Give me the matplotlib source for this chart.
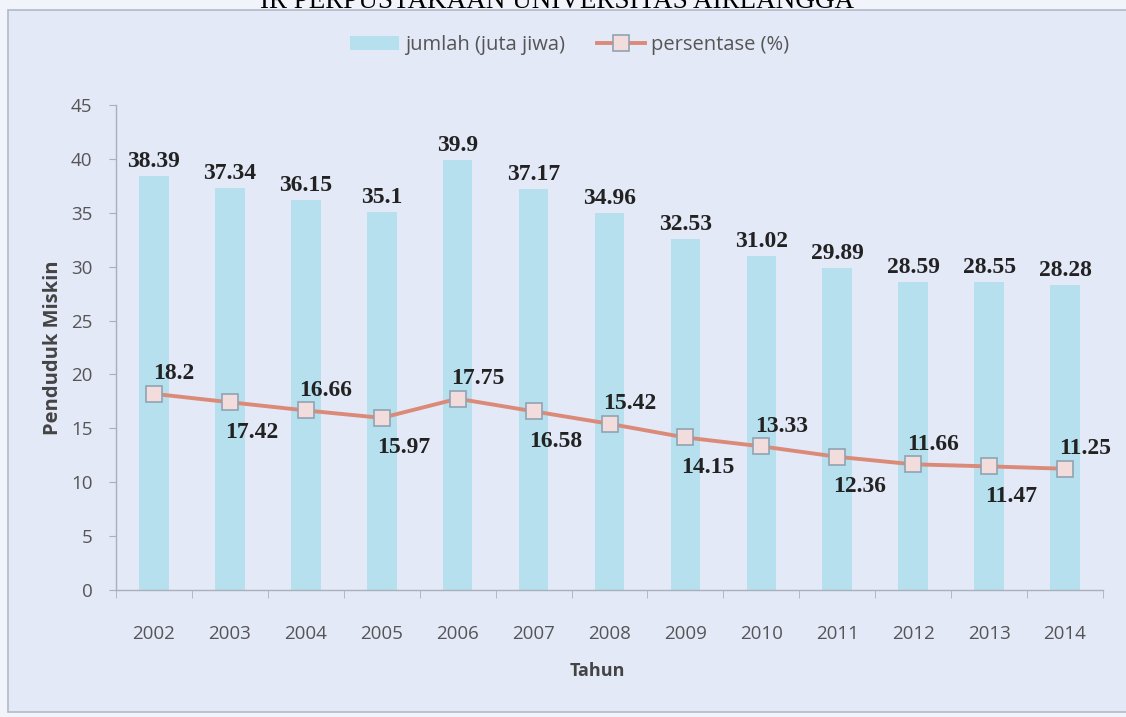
import matplotlib.pyplot as plt
from matplotlib.patches import Rectangle
import numpy as np

# data: penduduk miskin Indonesia 2002-2014
tahun = ['2002', '2003', '2004', '2005', '2006', '2007', '2008',
         '2009', '2010', '2011', '2012', '2013', '2014']
jumlah = [38.39, 37.34, 36.15, 35.1, 39.9, 37.17, 34.96,
          32.53, 31.02, 29.89, 28.59, 28.55, 28.28]
persen = [18.2, 17.42, 16.66, 15.97, 17.75, 16.58, 15.42,
          14.15, 13.33, 12.36, 11.66, 11.47, 11.25]

bg = '#e4e9f8'
bar_col = '#b6e0ee'
line_col = '#dc8a78'
txt_grey = '#555555'

fig = plt.figure(figsize=(11.26, 7.17), dpi=100)
fig.patch.set_facecolor('#f2f4fb')

# outer chart box, kept behind the axes
fig.patches.append(Rectangle((8/1126, 5/717), 1.0, 1 - 15/717,
                             transform=fig.transFigure, facecolor=bg,
                             edgecolor='#b4b9c8', linewidth=1.2, zorder=-10))

fig.text(557/1126, 1 - 8/717, 'IR PERPUSTAKAAN UNIVERSITAS AIRLANGGA',
         family='Liberation Serif', fontsize=19.5, color='black',
         ha='center', va='baseline')

ax = fig.add_axes([116/1126, 1 - 590/717, (1103 - 116)/1126, (590 - 105)/717])
ax.set_facecolor('none')

x = np.arange(len(tahun))
bars = ax.bar(x, jumlah, width=0.39, color=bar_col, label='jumlah (juta jiwa)', zorder=2)
ln, = ax.plot(x, persen, color=line_col, linewidth=2.8, marker='s', markersize=11,
              markerfacecolor='#f2dcdc', markeredgecolor='#8fa3b4', markeredgewidth=1.2,
              label='persentase (%)', zorder=3)

lab_font = dict(family='Liberation Serif', fontweight='bold', fontsize=17, color='#222222')
for xi, v in zip(x, jumlah):
    ax.annotate(f'{v:g}', (xi, v), xytext=(0, 4), textcoords='offset pixels',
                ha='center', va='bottom', **lab_font)

# percentage labels alternate above / below the line
for i, (xi, v) in enumerate(zip(x, persen)):
    if i % 2 == 0:
        off = (20, 20)
    else:
        off = (22, -30)
    ax.annotate(f'{v:g}', (xi, v), xytext=off, textcoords='offset pixels',
                ha='center', va='center', **lab_font)

ax.set_xlim(-0.5, len(tahun) - 0.5)
ax.set_ylim(0, 45)
ax.set_yticks(np.arange(0, 46, 5))
ax.set_xticks(x)
ax.set_xticklabels(tahun)
ax.set_xticks(np.arange(-0.5, len(tahun)), minor=True)

for s in ['top', 'right']:
    ax.spines[s].set_visible(False)
for s in ['left', 'bottom']:
    ax.spines[s].set_color('#a9b0bc')
    ax.spines[s].set_linewidth(1.0)

ax.tick_params(axis='x', which='major', length=0, pad=25, labelsize=13.5,
               labelcolor=txt_grey)
ax.tick_params(axis='x', which='minor', length=6, color='#a9b0bc', direction='out')
ax.tick_params(axis='y', length=5, color='#a9b0bc', pad=12, labelsize=13.5,
               labelcolor=txt_grey)
for t in ax.get_xticklabels() + ax.get_yticklabels():
    t.set_family('Open Sans')

ax.set_ylabel('Penduduk Miskin', family='Open Sans', fontweight='bold',
              fontsize=14.5, color='#444444', labelpad=6)
ax.set_xlabel('Tahun', family='Open Sans', fontweight='bold',
              fontsize=13, color='#444444', labelpad=14)
ax.xaxis.label.set_x(0.488)

leg = fig.legend(handles=[bars, ln], loc='center', ncol=2, frameon=False,
                 bbox_to_anchor=(570/1126, 1 - 45/717), handlelength=2.4,
                 handletextpad=0.3, columnspacing=1.6,
                 prop=dict(family='Open Sans', size=14.5))
for t in leg.get_texts():
    t.set_color(txt_grey)

fig.savefig('out.png', dpi=100, facecolor=fig.get_facecolor())
